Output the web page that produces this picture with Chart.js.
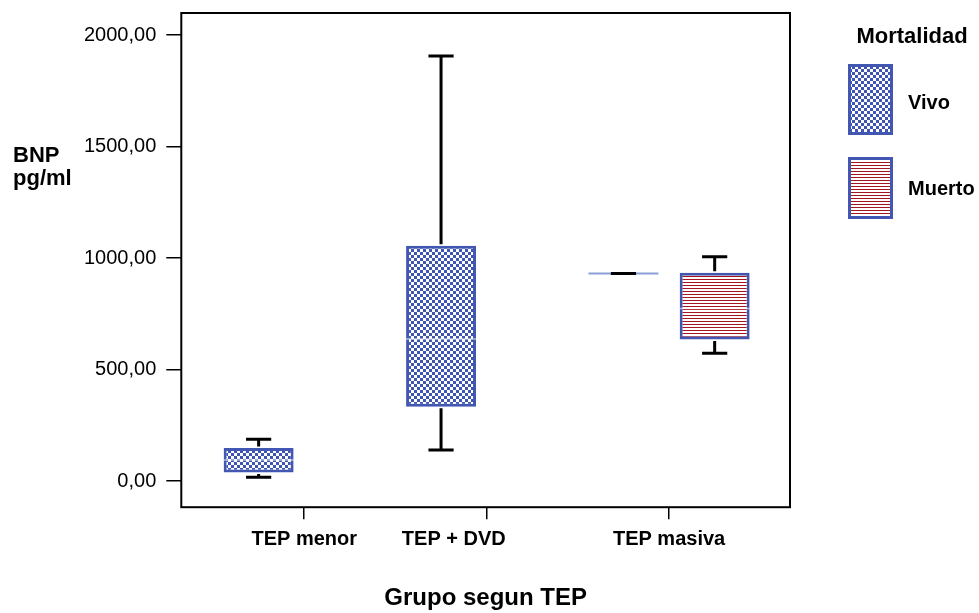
<!DOCTYPE html>
<html>
<head>
<meta charset="utf-8">
<script src="https://cdn.jsdelivr.net/npm/chart.js@4.4.1/dist/chart.umd.min.js"></script>
<style>
  body { margin: 0; background: #fff; }
  #wrap { width: 979px; height: 613px; position: relative; }
</style>
</head>
<body>
<div id="wrap"><canvas id="bnpChart"></canvas></div>
<script>
const groups = ['TEP menor', 'TEP + DVD', 'TEP masiva'];
const yTicks = [0, 500, 1000, 1500, 2000];

// Vivo
const vivoMin = [17, 139, 931];
const vivoQ1 = [39, 333, 931];
const vivoMedian = [95, 637, 931];
const vivoQ3 = [149, 1055, 931];
const vivoMax = [188, 1906, 931];

// Muerto (only in TEP masiva)
const muertoMin = [null, null, 573];
const muertoQ1 = [null, null, 635];
const muertoMedian = [null, null, 774];
const muertoQ3 = [null, null, 934];
const muertoMax = [null, null, 1006];

// middle label sits left of its tick in the original
const labelShift = [0, -0.18, 0];

const FONT = "'Liberation Sans', Arial, sans-serif";
Chart.defaults.font.family = FONT;
Chart.defaults.color = '#000';

function checkerPattern(color) {
    const c = document.createElement('canvas');
    c.width = 6; c.height = 6;
    const g = c.getContext('2d');
    g.fillStyle = '#fff';
    g.fillRect(0, 0, 6, 6);
    g.fillStyle = color;
    g.fillRect(0, 0, 3, 3);
    g.fillRect(3, 3, 3, 3);
    return g.createPattern(c, 'repeat');
}

function stripePattern(color) {
    const c = document.createElement('canvas');
    c.width = 4; c.height = 3;
    const g = c.getContext('2d');
    g.fillStyle = '#fff';
    g.fillRect(0, 0, 4, 3);
    g.fillStyle = color;
    g.fillRect(0, 0, 4, 1);
    return g.createPattern(c, 'repeat');
}

function boxData(q1, q3) {
    return groups
        .map((g, i) => q1[i] == null ? null : { x: i, y: [q1[i], q3[i]] })
        .filter(Boolean);
}

// whiskers + medians drawn on top of the floating bars
const boxWhiskers = {
    id: 'boxWhiskers',
    afterDatasetsDraw(chart) {
        const ctx = chart.ctx;
        const y = chart.scales.y;
        chart.data.datasets.forEach((ds, di) => {
            const meta = chart.getDatasetMeta(di);
            const s = ds.stats;
            meta.data.forEach((bar, j) => {
                const i = ds.data[j].x;
                const cx = bar.x;
                const half = bar.width / 2;
                const cap = half * 0.36;
                ctx.save();
                // median
                const ym = y.getPixelForValue(s.med[i]);
                ctx.beginPath();
                if (s.q1[i] === s.q3[i]) {
                    ctx.strokeStyle = '#8d9fd9';
                    ctx.lineWidth = 2;
                } else {
                    ctx.strokeStyle = 'rgba(255,255,255,0.6)';
                    ctx.lineWidth = 1.5;
                }
                ctx.moveTo(cx - half, ym);
                ctx.lineTo(cx + half, ym);
                ctx.stroke();
                // whiskers
                ctx.strokeStyle = '#000';
                ctx.lineWidth = 3;
                const yMin = y.getPixelForValue(s.min[i]);
                const yMax = y.getPixelForValue(s.max[i]);
                const yQ1 = y.getPixelForValue(s.q1[i]);
                const yQ3 = y.getPixelForValue(s.q3[i]);
                ctx.beginPath();
                ctx.moveTo(cx, yQ3 - 1.5); ctx.lineTo(cx, yMax);
                ctx.moveTo(cx, yQ1 + 1.5); ctx.lineTo(cx, yMin);
                ctx.moveTo(cx - cap, yMax); ctx.lineTo(cx + cap, yMax);
                ctx.moveTo(cx - cap, yMin); ctx.lineTo(cx + cap, yMin);
                ctx.stroke();
                ctx.restore();
            });
        });
    }
};

const frameAndLabels = {
    id: 'frameAndLabels',
    afterDraw(chart) {
        const ctx = chart.ctx;
        const a = chart.chartArea;
        ctx.save();
        // plot frame
        ctx.strokeStyle = '#000';
        ctx.lineWidth = 2;
        ctx.strokeRect(a.left, a.top, a.right - a.left, a.bottom - a.top);

        // horizontal y axis title
        ctx.fillStyle = '#000';
        ctx.textAlign = 'left';
        ctx.textBaseline = 'alphabetic';
        ctx.font = `bold 22px ${FONT}`;
        ctx.fillText('BNP', 13, 162);
        ctx.fillText('pg/ml', 13, 185);

        // legend
        const lx = a.right + 58;
        ctx.textAlign = 'center';
        ctx.font = `bold 22px ${FONT}`;
        ctx.fillText('Mortalidad', lx + 64, 43);
        const rows = [{ top: 64, h: 71, base: 109 }, { top: 157, h: 62, base: 195 }];
        ctx.textAlign = 'left';
        ctx.font = `bold 20px ${FONT}`;
        chart.data.datasets.forEach((ds, i) => {
            const r = rows[i];
            ctx.fillStyle = ds.backgroundColor;
            ctx.fillRect(lx, r.top, 45, r.h);
            ctx.strokeStyle = ds.borderColor;
            ctx.lineWidth = 3;
            ctx.strokeRect(lx + 1.5, r.top + 1.5, 42, r.h - 3);
            ctx.fillStyle = '#000';
            ctx.fillText(ds.label, lx + 60, r.base);
        });
        ctx.restore();
    }
};

const xMin = -0.674;
const xMax = 2.663;

new Chart(document.getElementById('bnpChart'), {
    type: 'bar',
    data: {
        datasets: [
            {
                label: 'Vivo',
                data: boxData(vivoQ1, vivoQ3),
                stats: { min: vivoMin, q1: vivoQ1, med: vivoMedian, q3: vivoQ3, max: vivoMax },
                backgroundColor: checkerPattern('#3f55b3'),
                borderColor: '#4257b2',
                borderWidth: 3,
                borderSkipped: false,
                categoryPercentage: 1.0,
                barPercentage: 0.767
            },
            {
                label: 'Muerto',
                data: boxData(muertoQ1, muertoQ3),
                stats: { min: muertoMin, q1: muertoQ1, med: muertoMedian, q3: muertoQ3, max: muertoMax },
                backgroundColor: stripePattern('#a3161f'),
                borderColor: '#4257b2',
                borderWidth: 3,
                borderSkipped: false,
                categoryPercentage: 1.0,
                barPercentage: 0.767
            }
        ]
    },
    options: {
        responsive: true,
        maintainAspectRatio: false,
        animation: false,
        devicePixelRatio: 1,
        layout: { padding: { left: 74, right: 189, top: 13, bottom: 0 } },
        plugins: {
            legend: { display: false },
            tooltip: { enabled: false }
        },
        scales: {
            x: {
                type: 'linear',
                offset: false,
                min: xMin,
                max: xMax,
                weight: 0,
                afterBuildTicks: axis => { axis.ticks = groups.map((g, i) => ({ value: i })); },
                ticks: { display: false },
                grid: { offset: false, drawOnChartArea: false, drawTicks: true, tickLength: 12, color: '#000', lineWidth: 1.5 },
                border: { display: false }
            },
            xl: {
                type: 'linear',
                position: 'bottom',
                display: true,
                offset: false,
                min: xMin,
                max: xMax,
                weight: 1,
                afterBuildTicks: axis => { axis.ticks = groups.map((g, i) => ({ value: i + labelShift[i] })); },
                ticks: {
                    padding: 8,
                    maxRotation: 0,
                    autoSkip: false,
                    font: { size: 20, weight: 'bold' },
                    callback: (v, i) => groups[i]
                },
                grid: { display: false, drawTicks: false },
                border: { display: false },
                title: {
                    display: true,
                    text: 'Grupo segun TEP',
                    font: { size: 24, weight: 'bold' },
                    padding: { top: 25, bottom: 0 }
                }
            },
            y: {
                min: -117,
                max: 2099,
                afterBuildTicks: axis => { axis.ticks = yTicks.map(v => ({ value: v })); },
                afterFit: axis => { axis.paddingTop = 0; axis.paddingBottom = 0; },
                ticks: {
                    padding: 10,
                    font: { size: 20 },
                    callback: v => v.toFixed(2).replace('.', ',')
                },
                grid: { drawOnChartArea: false, drawTicks: true, tickLength: 15, color: '#000', lineWidth: 1.5 },
                border: { display: false }
            }
        }
    },
    plugins: [boxWhiskers, frameAndLabels]
});
</script>
</body>
</html>
